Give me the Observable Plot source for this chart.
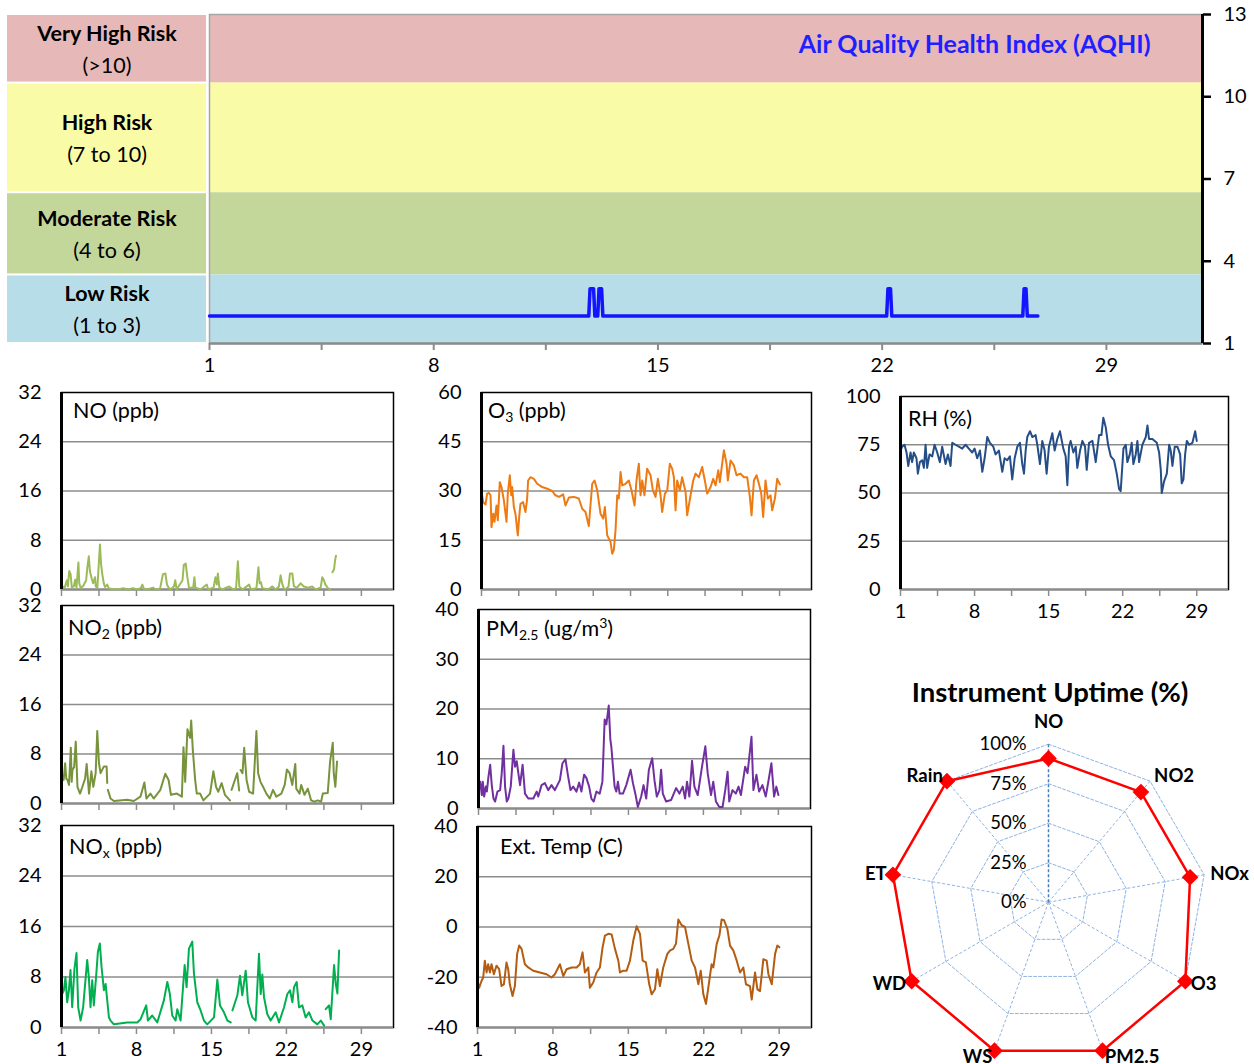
<!DOCTYPE html>
<html><head><meta charset="utf-8">
<script src="https://cdn.jsdelivr.net/npm/d3@7"></script>
<script src="https://cdn.jsdelivr.net/npm/@observablehq/plot@0.6"></script>
<style>
body{margin:0;background:#fff;overflow:hidden;font-family:Lato,"Open Sans",sans-serif;}
#root{position:relative;width:1254px;height:1064px;}
.plabel{position:absolute;font-size:21.5px;line-height:20px;white-space:nowrap;transform:translateY(-50%);color:#000;}
.plabel sub{font-size:14px;vertical-align:-4px;line-height:0}
.plabel sup{font-size:14px;vertical-align:8px;line-height:0}
.title{position:absolute;font-weight:bold;font-size:27.5px;white-space:nowrap;transform:translate(-50%,-50%);}
</style></head><body><div id="root"></div>
<script>
// ---------- data ----------
const xTicks = [1,4.5,8,11.5,15,18.5,22,25.5,29];
const xTickLabels = [1,8,15,22,29];

const riskLabels = ["Very High Risk","High Risk","Moderate Risk","Low Risk"];
const riskRanges = ["(>10)","(7 to 10)","(4 to 6)","(1 to 3)"];
const riskLo = [10.5,6.5,3.5,1];
const riskHi = [13,10.5,6.5,3.5];
const aqhiTicks = [1,4,7,10,13];

const aqhi = [[1,2],[12.84,2],[12.88,3],[12.99,3],[13.03,2],[13.12,2],[13.16,3],[13.24,3],[13.28,2],[22.14,2],[22.18,3],[22.26,3],[22.30,2],[26.39,2],[26.43,3],[26.49,3],[26.53,2],[26.86,2]];

const noSeries = [[1.0,0.6],[1.3,0.3],[1.5,1.5],[1.6,0.5],[1.72,3.0],[1.85,2.5],[1.96,0.4],[2.15,0.5],[2.27,1.6],[2.4,0.3],[2.58,4.4],[2.66,1.0],[2.8,0.2],[3.04,0.6],[3.3,1.5],[3.41,3.5],[3.55,5.4],[3.65,3.0],[3.82,1.8],[3.95,1.0],[4.13,2.0],[4.2,0.5],[4.35,0.3],[4.59,7.3],[4.7,4.0],[4.81,2.5],[4.95,1.0],[5.06,0.4],[5.27,0.8],[5.4,0.2],[5.83,0],[6.5,0.1],[6.76,0.2],[7.2,0],[7.69,0.2],[8.0,0],[8.4,0.2],[8.55,0.8],[8.7,0.1],[9.0,0],[9.54,0.3],[9.8,0],[10.2,0.1],[10.47,2.5],[10.7,2.6],[10.85,0.8],[11.0,0.3],[11.15,0],[11.5,0.5],[11.62,1.5],[11.75,0],[12.3,1.5],[12.42,4.0],[12.6,4.2],[12.75,2.0],[12.9,0.3],[13.3,0.3],[13.41,2.0],[13.5,0.3],[14.0,0],[14.56,0.8],[14.7,0],[15.2,0.3],[15.37,2.0],[15.5,0.8],[15.6,2.6],[15.74,0.3],[16.0,0],[16.67,0.5],[17.0,0],[17.3,0.2],[17.47,4.6],[17.6,0.5],[17.9,0],[18.52,0.8],[18.68,0],[19.2,0.2],[19.39,3.6],[19.5,1.0],[19.61,1.2],[19.76,0.2],[20.3,0],[20.69,0.5],[21.0,0],[21.3,0.5],[21.46,2.3],[21.6,1.0],[21.75,0.2],[21.9,0],[22.2,0.5],[22.33,2.6],[22.55,2.6],[22.7,0.5],[23.0,0.3],[23.32,1.0],[23.63,0.5],[24.0,0.3],[24.41,0.5],[24.72,0],[25.2,0.3],[25.35,2.0],[25.5,1.5],[25.64,0.8],[25.89,0.2],[26.1,0],[26.2,null],[26.3,2.8],[26.45,3.3],[26.55,4.8],[26.63,5.5]];

const no2Series = [[1.03,4.9],[1.2,3.8],[1.34,6.5],[1.45,4.0],[1.56,3.8],[1.7,3.0],[1.87,9.0],[1.95,3.5],[2.02,5.4],[2.18,5.9],[2.33,10.0],[2.49,2.7],[2.73,1.6],[2.95,2.7],[3.2,4.0],[3.35,6.4],[3.57,1.6],[3.79,5.2],[3.97,2.7],[4.19,4.9],[4.34,11.7],[4.5,6.5],[4.65,4.9],[4.96,6.0],[5.21,6.0],[5.27,3.3],[5.3,null],[5.33,2.2],[5.58,0.8],[5.89,0.4],[7.13,0.6],[7.75,0.4],[8.37,1.1],[8.74,3.4],[8.93,0.8],[9.3,1.6],[9.61,0.8],[10.23,2.2],[10.69,4.8],[11.0,3.8],[11.22,1.4],[11.77,1.6],[12.24,1.1],[12.39,9.1],[12.55,3.5],[12.76,12.0],[13.01,10.6],[13.11,13.4],[13.26,8.7],[13.48,3.8],[13.63,1.6],[13.94,1.6],[14.25,0.5],[14.87,1.6],[15.18,5.2],[15.43,2.7],[15.64,1.9],[15.95,3.3],[16.26,1.4],[16.73,0.5],[16.8,null],[16.88,2.2],[17.19,3.8],[17.41,4.9],[17.59,2.1],[17.65,null],[17.72,5.4],[17.9,4.9],[18.06,9.0],[18.28,3.8],[18.52,1.9],[18.89,1.6],[19.2,11.7],[19.36,4.9],[19.58,3.5],[19.82,2.7],[20.13,1.6],[20.44,0.8],[20.75,2.2],[21.06,1.1],[21.53,1.6],[21.84,3.0],[22.05,5.5],[22.3,4.9],[22.55,3.0],[22.83,6.4],[22.92,2.4],[23.23,1.6],[23.38,3.0],[23.69,1.4],[24.0,2.4],[24.31,0.5],[24.62,0.3],[24.93,0.5],[25.24,0.3],[25.4,1.6],[25.86,1.7],[26.08,6.8],[26.33,9.8],[26.42,4.9],[26.57,2.7],[26.73,6.8]];

const noxSeries = [[1.0,5.1],[1.22,5.9],[1.37,8.0],[1.53,4.0],[1.69,5.9],[1.84,9.1],[2.0,3.2],[2.21,9.3],[2.4,11.8],[2.56,3.2],[2.78,1.1],[3.02,3.2],[3.4,10.7],[3.55,8.0],[3.71,3.2],[3.87,7.5],[4.02,3.5],[4.24,8.3],[4.4,12.0],[4.58,13.3],[4.74,9.6],[4.96,5.9],[5.12,6.9],[5.27,4.3],[5.43,1.6],[5.58,1.1],[5.89,0.5],[7.14,0.8],[8.07,0.8],[8.38,1.3],[8.91,3.5],[9.07,1.1],[9.47,1.9],[9.94,0.8],[10.56,4.3],[10.88,7.2],[11.12,5.3],[11.34,1.9],[11.65,1.1],[11.81,2.9],[12.12,1.1],[12.5,9.9],[12.68,6.4],[12.9,12.5],[13.21,13.6],[13.37,8.5],[13.68,4.0],[13.99,2.7],[14.3,1.1],[14.61,0.5],[15.24,1.6],[15.55,7.6],[15.8,3.5],[16.17,2.4],[16.49,1.1],[16.8,0.8],[16.88,null],[16.96,2.7],[17.42,5.1],[17.67,8.2],[17.88,5.1],[18.2,9.0],[18.41,4.0],[18.82,1.6],[19.13,1.1],[19.44,11.7],[19.6,5.3],[19.75,8.4],[19.91,4.8],[20.22,2.1],[20.53,1.1],[21.0,2.4],[21.31,0.8],[21.78,3.2],[22.09,5.3],[22.34,5.9],[22.56,4.0],[22.71,6.4],[22.96,7.2],[23.18,3.2],[23.49,3.5],[23.8,1.6],[24.11,2.4],[24.43,1.1],[24.89,0.5],[25.21,1.1],[25.52,0.3],[25.6,null],[25.67,2.9],[25.98,3.5],[26.14,1.3],[26.45,9.9],[26.61,6.9],[26.76,5.4],[26.92,12.2]];

const o3Series = [[1.0,29.7],[1.16,26.6],[1.38,25.9],[1.53,29.2],[1.69,29.4],[1.85,28.7],[1.94,19.0],[2.10,23.1],[2.22,20.6],[2.41,25.6],[2.53,21.1],[2.72,32.7],[2.88,31.2],[3.10,27.2],[3.35,20.6],[3.47,29.2],[3.66,34.8],[3.79,28.7],[3.88,31.2],[4.04,25.1],[4.19,23.1],[4.41,16.5],[4.54,22.1],[4.66,26.1],[4.91,26.6],[5.13,23.6],[5.29,27.7],[5.38,33.2],[5.60,34.2],[5.92,33.7],[6.23,32.2],[6.70,31.2],[7.17,30.7],[7.64,30.0],[7.95,28.7],[8.27,28.2],[8.67,29.0],[8.89,25.6],[9.21,28.0],[9.68,28.2],[10.14,27.7],[10.46,24.6],[10.77,23.6],[11.08,19.3],[11.40,32.2],[11.62,33.2],[11.87,30.2],[12.18,23.1],[12.43,21.6],[12.59,25.1],[12.81,16.5],[13.12,14.5],[13.28,10.9],[13.43,12.0],[13.59,18.0],[13.75,28.7],[13.90,27.7],[14.06,35.8],[14.22,31.7],[14.53,32.2],[14.84,33.2],[15.09,30.2],[15.38,25.6],[15.56,33.2],[15.78,38.3],[15.94,28.7],[16.10,33.2],[16.31,28.7],[16.56,36.8],[16.88,34.8],[17.10,30.2],[17.35,28.2],[17.57,33.7],[17.82,28.7],[17.97,23.6],[18.23,29.2],[18.45,30.2],[18.69,38.3],[18.91,36.8],[19.07,34.2],[19.23,24.1],[19.38,33.2],[19.63,30.2],[19.85,34.2],[20.17,29.7],[20.32,22.6],[20.64,28.7],[20.89,33.2],[21.11,35.3],[21.42,34.2],[21.73,37.3],[21.98,33.2],[22.20,29.2],[22.52,31.2],[22.77,33.7],[22.99,31.7],[23.24,36.3],[23.39,32.7],[23.61,38.3],[23.77,42.4],[24.02,38.3],[24.14,33.2],[24.40,39.3],[24.71,37.8],[24.96,34.8],[25.33,35.3],[25.65,34.2],[25.96,34.2],[26.21,28.2],[26.37,22.6],[26.59,33.2],[26.84,34.8],[27.06,32.2],[27.28,29.2],[27.46,22.1],[27.68,33.2],[27.90,27.7],[28.15,28.7],[28.31,24.1],[28.56,27.7],[28.78,33.7],[29.03,32.0]];

const pmSeries = [[1.0,3.7],[1.16,5.4],[1.31,2.7],[1.40,5.4],[1.53,2.4],[1.68,4.4],[1.78,3.4],[1.93,6.4],[2.09,8.8],[2.24,4.7],[2.40,2.0],[2.55,1.4],[2.77,3.4],[3.02,3.7],[3.17,7.1],[3.33,12.6],[3.48,4.4],[3.64,1.4],[3.79,2.0],[4.01,4.4],[4.26,11.8],[4.41,8.4],[4.57,9.5],[4.72,7.1],[4.88,4.7],[5.12,8.8],[5.34,3.0],[5.65,2.0],[6.12,2.0],[6.43,3.4],[6.58,2.4],[6.89,4.7],[7.20,5.1],[7.51,3.7],[7.82,4.7],[8.13,3.7],[8.60,5.7],[8.84,9.1],[9.12,9.9],[9.37,6.4],[9.59,3.7],[9.84,4.4],[10.15,3.4],[10.40,5.2],[10.61,3.4],[10.86,6.8],[11.08,6.1],[11.33,4.4],[11.54,2.0],[11.76,1.4],[12.01,3.4],[12.32,3.0],[12.57,5.4],[12.78,17.9],[12.94,16.9],[13.16,20.7],[13.31,13.9],[13.40,12.5],[13.71,4.4],[13.87,3.4],[14.02,5.4],[14.18,3.0],[14.49,3.0],[14.80,4.7],[15.20,7.8],[15.42,5.1],[15.67,2.7],[15.88,0.3],[16.19,2.4],[16.41,4.7],[16.66,2.0],[16.91,7.8],[17.22,10.1],[17.43,5.7],[17.65,2.4],[17.90,3.7],[18.05,7.8],[18.21,3.0],[18.52,1.4],[18.98,1.7],[19.45,4.1],[19.76,3.0],[20.07,4.4],[20.29,2.0],[20.47,5.4],[20.69,2.4],[20.94,9.6],[21.16,4.4],[21.47,2.7],[21.87,8.4],[22.18,12.5],[22.40,7.1],[22.71,2.7],[22.92,5.4],[23.17,1.4],[23.48,0.3],[23.79,0.3],[24.04,3.7],[24.26,7.4],[24.41,1.4],[24.72,3.7],[25.03,3.0],[25.28,4.4],[25.50,2.7],[25.90,8.4],[26.12,7.1],[26.49,14.4],[26.67,3.7],[26.95,6.8],[27.20,3.4],[27.51,4.7],[27.82,2.4],[28.04,5.1],[28.35,9.1],[28.60,2.4],[28.81,4.4],[29.0,2.7]];

const tempSeries = [[1.0,-21.5],[1.15,-24.2],[1.37,-21.5],[1.53,-20.1],[1.68,-13.4],[1.84,-18.1],[1.99,-14.8],[2.15,-18.1],[2.30,-14.8],[2.52,-18.8],[2.76,-15.4],[3.01,-16.8],[3.23,-23.5],[3.45,-22.8],[3.69,-14.1],[3.85,-16.8],[4.0,-22.8],[4.25,-27.5],[4.47,-23.5],[4.68,-10.7],[4.87,-7.4],[5.09,-8.7],[5.40,-14.8],[5.71,-16.1],[6.17,-17.4],[6.79,-18.1],[7.41,-18.8],[7.87,-20.1],[8.18,-18.8],[8.65,-14.8],[8.96,-19.5],[9.27,-16.8],[9.73,-16.1],[10.20,-16.1],[10.50,-14.8],[10.75,-10.1],[10.97,-18.1],[11.28,-16.1],[11.43,-24.2],[11.74,-22.1],[12.05,-18.1],[12.36,-16.1],[12.61,-8.1],[12.83,-3.4],[13.14,-2.7],[13.45,-3.0],[13.76,-8.7],[14.07,-13.4],[14.22,-18.1],[14.53,-17.4],[14.84,-17.4],[15.15,-13.4],[15.46,-5.4],[15.77,0.3],[16.08,-2.7],[16.33,-13.4],[16.63,-14.1],[16.94,-22.8],[17.16,-26.8],[17.47,-24.8],[17.69,-16.8],[17.93,-23.5],[18.24,-16.1],[18.62,-10.7],[18.86,-9.4],[19.17,-8.7],[19.42,-6.7],[19.64,3.0],[19.95,0.7],[20.26,0],[20.57,-6.7],[20.88,-13.4],[21.19,-16.1],[21.50,-22.8],[21.72,-17.4],[21.96,-26.8],[22.21,-30.6],[22.42,-24.2],[22.73,-14.8],[22.89,-16.1],[23.20,-6.7],[23.45,-3.4],[23.66,3.0],[23.88,2.7],[24.19,-0.7],[24.44,-7.4],[24.75,-9.4],[25.06,-13.4],[25.37,-18.1],[25.67,-16.1],[25.92,-22.8],[26.29,-23.5],[26.45,-28.9],[26.76,-18.1],[26.98,-24.8],[27.22,-25.5],[27.53,-12.8],[27.84,-13.4],[28.0,-18.8],[28.31,-22.8],[28.62,-10.7],[28.83,-7.4],[29.02,-8.1]];

const rhSeries = [[1.0,72],[1.16,74],[1.38,75],[1.57,71],[1.73,64],[1.95,71],[2.10,66],[2.26,71],[2.51,68],[2.64,60],[2.83,66],[3.05,67],[3.21,63],[3.37,75],[3.52,63],[3.74,70],[4.0,69],[4.22,75],[4.47,71],[4.72,66],[4.94,74],[5.26,65],[5.48,70],[5.73,64],[5.89,76],[6.20,75],[6.52,74],[6.83,73],[7.15,75],[7.46,73],[7.78,71],[8.0,73],[8.25,68],[8.51,72],[8.73,61],[8.95,68],[9.20,79],[9.45,76],[9.77,74],[9.99,70],[10.30,72],[10.62,61],[10.84,68],[11.09,67],[11.34,69],[11.56,57],[11.79,68],[12.04,74],[12.29,76],[12.51,65],[12.67,60],[12.83,72],[12.98,79],[13.24,82],[13.46,79],[13.77,80],[13.93,75],[14.18,65],[14.40,77],[14.62,72],[14.81,60],[15.03,74],[15.35,81],[15.57,72],[15.82,78],[16.07,82],[16.39,73],[16.61,69],[16.77,54],[16.93,74],[17.08,77],[17.34,71],[17.56,74],[17.71,63],[17.97,72],[18.19,77],[18.44,74],[18.60,62],[18.82,76],[19.14,77],[19.45,66],[19.77,80],[19.99,80],[20.17,89],[20.40,84],[20.62,75],[20.87,69],[21.18,67],[21.44,60],[21.66,52],[21.81,51],[22.07,73],[22.29,75],[22.44,66],[22.67,70],[22.85,76],[23.01,65],[23.23,70],[23.39,77],[23.55,66],[23.86,75],[24.18,79],[24.34,85],[24.49,78],[24.81,78],[25.22,76],[25.44,71],[25.60,62],[25.69,50],[25.91,56],[26.17,60],[26.39,75],[26.54,72],[26.70,64],[26.92,74],[27.17,74],[27.43,70],[27.58,55],[27.74,57],[27.90,70],[28.06,77],[28.28,75],[28.59,76],[28.85,82],[29.0,77]];

const uptimeCategories = ["NO","NO2","NOx","O3","PM2.5","WS","WD","ET","Rain"];
const uptimeValues = [91,91,91,100,100,100,100,100,100];
const uptimeTicks = [0,25,50,75,100];

// ---------- styles / layout ----------
const FONT = 'Lato, "Open Sans", sans-serif';
const bandColors = ["#e6b8b7","#fafba6","#c4d79b","#b7dee8"];
const root = document.getElementById("root");
function place(node, left, top) {
  node.style.position = "absolute";
  node.style.left = left + "px";
  node.style.top = top + "px";
  root.appendChild(node);
  return node;
}
const risk = riskLabels.map((label, i) => ({label, range: riskRanges[i], lo: riskLo[i], hi: riskHi[i], color: bandColors[i]}));

// ---------- AQHI label column ----------
place(Plot.plot({
  width: 199, height: 379, marginLeft: 0, marginRight: 0, marginTop: 14, marginBottom: 36,
  x: {domain: [0, 1], axis: null}, y: {domain: [1, 13], axis: null},
  color: {type: "identity"},
  style: {fontFamily: FONT, fontSize: "21.5px", color: "#000", background: "none", overflow: "visible"},
  marks: [
    Plot.rect(risk, {y1: "lo", y2: "hi", fill: "color", insetTop: 1, insetBottom: 1}),
    Plot.text(risk, {x: () => 0.5, y: d => (d.lo + d.hi) / 2, text: "label", fontWeight: "bold", dy: -15, fontSize: 21.5}),
    Plot.text(risk, {x: () => 0.5, y: d => (d.lo + d.hi) / 2, text: "range", dy: 17, fontSize: 21.5})
  ]
}), 7, 0);

// ---------- AQHI chart ----------
place(Plot.plot({
  width: 1055, height: 379, marginLeft: 10, marginRight: 52, marginTop: 14, marginBottom: 36,
  x: {domain: [1, 32]}, y: {domain: [1, 13]},
  color: {type: "identity"},
  style: {fontFamily: FONT, fontSize: "20px", color: "#000", background: "none", overflow: "visible"},
  marks: [
    Plot.rect(risk, {y1: "lo", y2: "hi", fill: "color"}),
    Plot.frame({stroke: "#a6a6a6", strokeWidth: 1.5}),
    Plot.ruleY([1], {stroke: "#8c8c8c", strokeWidth: 2.5}),
    Plot.axisX(xTicks, {tickSize: 7, tickPadding: 7, stroke: "#8c8c8c", strokeWidth: 2, tickFormat: d => xTickLabels.includes(d) ? String(d) : ""}),
    Plot.ruleX([32], {stroke: "#000", strokeWidth: 3}),
    Plot.axisY(aqhiTicks, {anchor: "right", tickSize: 8, tickPadding: 13, stroke: "#000", strokeWidth: 2.5}),
    Plot.line(aqhi, {x: d => d[0], y: d => d[1], stroke: "#1414ff", strokeWidth: 3.5}),
    Plot.text(["Air Quality Health Index (AQHI)"], {frameAnchor: "top-right", lineAnchor: "middle", dx: -52, dy: 30, fill: "#1f1fff", fontWeight: "bold", fontSize: 25})
  ]
}), 199, 0);

// ---------- small panels ----------
function panel({data, color, yDomain, yTicks, showXLabels, L, R, T, B}) {
  const mL = 60, mR = 8, mT = 10, mB = 34;
  const chart = Plot.plot({
    width: (R - L) + mL + mR, height: (B - T) + mT + mB,
    marginLeft: mL, marginRight: mR, marginTop: mT, marginBottom: mB,
    x: {domain: [1, 32]}, y: {domain: yDomain},
    style: {fontFamily: FONT, fontSize: "20px", color: "#000", background: "none", overflow: "visible"},
    marks: [
      Plot.gridY(yTicks.slice(1, -1), {stroke: "#8c8c8c", strokeOpacity: 1, strokeWidth: 1.5}),
      Plot.frame({stroke: "#000", strokeWidth: 1.5}),
      Plot.ruleY([yDomain[0]], {stroke: "#8c8c8c", strokeWidth: 2}),
      Plot.axisX(xTicks, {tickSize: 7, tickPadding: 7, stroke: "#8c8c8c", strokeWidth: 1.5,
        tickFormat: showXLabels ? (d => xTickLabels.includes(d) ? String(d) : "") : () => ""}),
      Plot.axisY(yTicks, {tickSize: 0, tickPadding: 20, tickFormat: d => String(d)}),
      Plot.line(data, {x: d => d[0], y: d => d[1], stroke: color, strokeWidth: 2}),
      Plot.ruleX([1], {stroke: "#000", strokeWidth: 3})
    ]
  });
  place(chart, L - mL, T - mT);
}

panel({data: noSeries, color: "#9bbb59", yDomain: [0, 32], yTicks: [0, 8, 16, 24, 32], showXLabels: false, L: 61, R: 393, T: 392, B: 589});
panel({data: no2Series, color: "#77933c", yDomain: [0, 32], yTicks: [0, 8, 16, 24, 32], showXLabels: false, L: 61, R: 393, T: 605, B: 803});
panel({data: noxSeries, color: "#00b050", yDomain: [0, 32], yTicks: [0, 8, 16, 24, 32], showXLabels: true, L: 61, R: 393, T: 825, B: 1027});
panel({data: o3Series, color: "#ee7a14", yDomain: [0, 60], yTicks: [0, 15, 30, 45, 60], showXLabels: false, L: 481, R: 811, T: 392, B: 589});
panel({data: pmSeries, color: "#7030a0", yDomain: [0, 40], yTicks: [0, 10, 20, 30, 40], showXLabels: false, L: 478, R: 810, T: 609, B: 808});
panel({data: tempSeries, color: "#b35c12", yDomain: [-40, 40], yTicks: [-40, -20, 0, 20, 40], showXLabels: true, L: 477, R: 811, T: 826, B: 1027});
panel({data: rhSeries, color: "#254e86", yDomain: [0, 100], yTicks: [0, 25, 50, 75, 100], showXLabels: true, L: 900, R: 1228, T: 396, B: 589});

// panel labels
const panelLabels = [
  ["NO (ppb)", 73, 410],
  ["O<sub>3</sub> (ppb)", 488, 410],
  ["RH (%)", 908, 418],
  ["NO<sub>2</sub> (ppb)", 68, 627],
  ["PM<sub>2.5</sub> (ug/m<sup>3</sup>)", 486, 628],
  ["NO<sub>x</sub> (ppb)", 69, 846],
  ["Ext. Temp (C)", 500, 846]
];
for (const [html, x, y] of panelLabels) {
  const d = document.createElement("div");
  d.className = "plabel";
  d.innerHTML = html;
  place(d, x, y);
}

// ---------- radar ----------
const R = 158;
const radarW = 400, radarH = 352, cx = 200, cy = 189.7;
const ang = i => i * 2 * Math.PI / uptimeCategories.length;
const px = (v, i) => v * Math.sin(ang(i));
const py = (v, i) => v * Math.cos(ang(i));
const up = uptimeCategories.map((c, i) => ({c, i, v: uptimeValues[i] / 100}));
const rings = uptimeTicks.slice(1).flatMap(t => uptimeCategories.map((c, i) => ({t, i, v: t / 100})));
const rightSide = up.filter(d => d.i >= 1 && d.i <= 4);
const leftSide = up.filter(d => d.i >= 5);
place(Plot.plot({
  width: radarW, height: radarH, margin: 0,
  x: {domain: [-cx / R, (radarW - cx) / R], axis: null},
  y: {domain: [-(radarH - cy) / R, cy / R], axis: null},
  style: {fontFamily: FONT, fontSize: "18px", color: "#000", background: "none", overflow: "visible"},
  marks: [
    Plot.line(rings, {x: d => px(d.v, d.i), y: d => py(d.v, d.i), z: "t", curve: "linear-closed", stroke: "#8db3e2", strokeWidth: 1, strokeDasharray: "3,2"}),
    Plot.link(up.filter(d => d.i > 0), {x1: () => 0, y1: () => 0, x2: d => px(1, d.i), y2: d => py(1, d.i), stroke: "#8db3e2", strokeWidth: 1, strokeDasharray: "3,2"}),
    Plot.link(up.filter(d => d.i === 0), {x1: () => 0, y1: () => 0, x2: d => px(1, d.i), y2: d => py(1, d.i), stroke: "#4a7ebb", strokeWidth: 1.5, strokeDasharray: "3,2"}),
    Plot.text(uptimeTicks, {x: () => 0, y: d => d / 100, text: d => d + "%", textAnchor: "end", dx: -22, fontSize: 18.5}),
    Plot.line(up, {x: d => px(d.v, d.i), y: d => py(d.v, d.i), curve: "linear-closed", stroke: "#ff0000", strokeWidth: 2.5}),
    Plot.dot(up, {x: d => px(d.v, d.i), y: d => py(d.v, d.i), symbol: "diamond2", r: 7.5, fill: "#ff0000", stroke: "none"}),
    Plot.text(up.filter(d => d.i === 0), {x: () => 0, y: () => 1, text: "c", dy: -22, fontWeight: "bold", fontSize: 18.5}),
    Plot.text(rightSide, {x: d => px(1.04, d.i), y: d => py(1.04, d.i), text: "c", textAnchor: "start", fontWeight: "bold", fontSize: 18.5}),
    Plot.text(leftSide, {x: d => px(1.04, d.i), y: d => py(1.04, d.i), text: "c", textAnchor: "end", fontWeight: "bold", fontSize: 18.5})
  ]
}), 1048 - cx, 901.7 - cy);

const t = document.createElement("div");
t.className = "title";
t.textContent = "Instrument Uptime (%)";
place(t, 1050, 691);
</script></body></html>
